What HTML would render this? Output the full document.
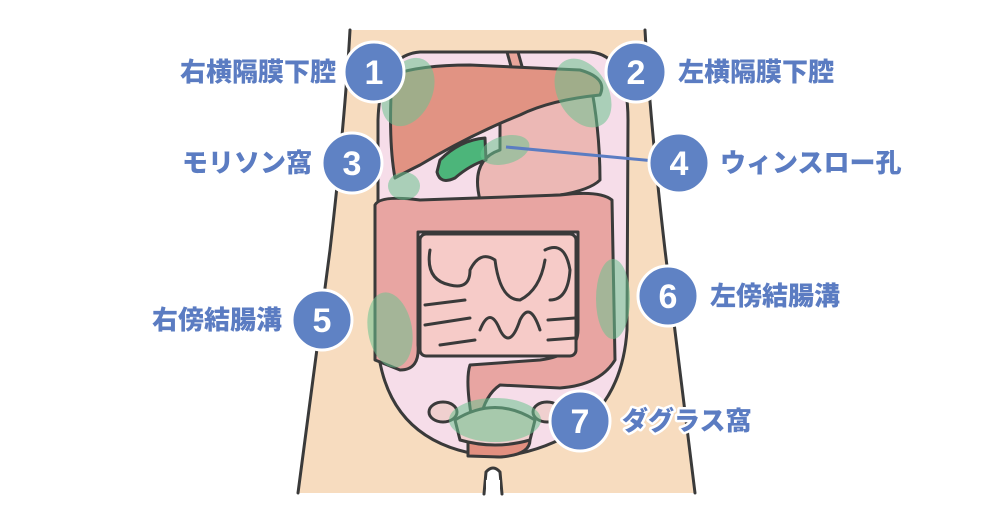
<!DOCTYPE html>
<html><head><meta charset="utf-8"><style>
body{margin:0;background:#fff;width:1000px;height:523px;overflow:hidden}
svg{display:block}
.lb{font-family:"Liberation Sans","Noto Sans CJK JP",sans-serif;font-weight:900;font-size:26px;fill:#5b7cc2;stroke:#fff;stroke-width:5px;paint-order:stroke;stroke-linejoin:round}
.num{font-family:"Liberation Sans",sans-serif;font-weight:bold;font-size:34px;fill:#fff;text-anchor:middle}
.o{stroke:#3a3a3a;stroke-width:3;stroke-linejoin:round;stroke-linecap:round}
.g{fill:#6cc38f;opacity:.55}
</style></head><body>
<svg width="1000" height="523" viewBox="0 0 1000 523">
<path d="M350 30 Q345 120 330 250 Q310 400 298 493 L695 493 Q683 400 665 250 Q650 120 645 30 Z" fill="#f7dcbf"/>
<path d="M350 30 Q345 120 330 250 Q310 400 298 493" fill="none" class="o"/>
<path d="M645 30 Q650 120 665 250 Q683 400 695 493" fill="none" class="o"/>
<path d="M484 494 L486 472 Q493 464 500 472 L502 494" fill="#fff" class="o"/>
<rect x="486" y="480" width="14" height="16" fill="#fff"/>
<path d="M420 52 L590 52 Q628 55 628 120 L627 330 Q620 440 500 457 Q390 450 378 350 L378 120 Q380 55 420 52 Z" fill="#f6dde9" class="o"/>
<path d="M507 52 L512 70 L523 70 L518 52 Z" fill="#e9a59a" class="o" stroke-width="2"/>
<path d="M500 80 Q560 60 590 80 Q600 130 600 180 Q590 190 560 195 L480 200 Q470 160 500 150 Z" fill="#ecb8b5" class="o"/>
<path d="M392 75 Q420 65 470 65 L580 70 Q608 78 600 95 Q550 100 520 115 Q470 135 420 165 Q400 175 395 178 Q388 140 392 75 Z" fill="#e19383" class="o"/>
<path d="M440 160 Q460 140 485 138 L486 160 Q470 165 455 178 Q440 185 437 172 Z" fill="#4cb57a" class="o" stroke-width="2"/>
<path d="M375 205 Q380 195 420 200 L560 195 Q600 190 612 200 L615 360 Q600 385 560 388 L500 385 Q485 395 480 420 L472 420 Q465 380 470 365 L540 360 Q578 355 578 330 L578 232 L418 232 L418 345 Q420 370 400 370 L375 360 Z" fill="#e8a5a2" class="o"/>
<path d="M500 440 L530 440 Q530 455 500 457 L468 456 L468 440 Z" fill="#e29080" class="o" stroke-width="2"/>
<rect x="420" y="234" width="156" height="122" rx="6" fill="#f6cbc8" class="o" stroke-width="2.5"/>
<g fill="none" class="o" stroke-width="2.5">
<path d="M430 250 Q425 280 450 285 Q470 290 470 270 Q480 250 495 260 Q500 300 520 300 Q540 290 545 260"/>
<path d="M425 305 L465 300 M425 325 L470 318 M440 345 L475 340"/>
<path d="M480 330 Q490 305 500 330 Q510 350 520 320 Q530 300 540 330"/>
<path d="M545 250 Q565 240 570 270 Q568 300 550 300 M548 320 L575 318 M548 340 L575 338"/>
</g>
<ellipse cx="443" cy="412" rx="14" ry="10" fill="#f0d0cf" class="o" stroke-width="2"/>
<ellipse cx="547" cy="412" rx="14" ry="10" fill="#f0d0cf" class="o" stroke-width="2"/>
<path d="M455 420 Q495 395 535 420 L530 440 Q495 450 460 440 Z" fill="#f0d0cf" class="o" stroke-width="2"/>
<ellipse class="g" cx="408" cy="92" rx="24" ry="36" transform="rotate(25 408 92)"/>
<ellipse class="g" cx="583" cy="93" rx="25" ry="37" transform="rotate(-30 583 93)"/>
<ellipse class="g" cx="404" cy="186" rx="16" ry="14"/>
<ellipse class="g" cx="505" cy="150" rx="25" ry="14" transform="rotate(-15 505 150)"/>
<ellipse class="g" cx="390" cy="330" rx="22" ry="38" transform="rotate(-10 390 330)"/>
<ellipse class="g" cx="613" cy="299" rx="17" ry="40"/>
<ellipse class="g" cx="495" cy="420" rx="46" ry="22"/>
<line x1="506" y1="147" x2="655" y2="161" stroke="#5b7cc2" stroke-width="3"/>
<g fill="#5f82c4" stroke="#fff" stroke-width="3">
<circle cx="374" cy="72" r="30"/><circle cx="636" cy="72" r="30"/>
<circle cx="352" cy="163" r="30"/><circle cx="679" cy="163" r="30"/>
<circle cx="322" cy="320" r="30"/><circle cx="668" cy="296" r="30"/>
<circle cx="580" cy="421" r="30"/>
</g>
<text class="num" x="374" y="84">1</text><text class="num" x="636" y="84">2</text>
<text class="num" x="352" y="175">3</text><text class="num" x="679" y="175">4</text>
<text class="num" x="322" y="332">5</text><text class="num" x="668" y="308">6</text>
<text class="num" x="580" y="433">7</text>
<text class="lb" x="336" y="81" text-anchor="end">右横隔膜下腔</text>
<text class="lb" x="678" y="81">左横隔膜下腔</text>
<text class="lb" x="312" y="172" text-anchor="end">モリソン窩</text>
<text class="lb" x="720" y="172">ウィンスロー孔</text>
<text class="lb" x="282" y="329" text-anchor="end">右傍結腸溝</text>
<text class="lb" x="710" y="305">左傍結腸溝</text>
<text class="lb" x="622" y="430">ダグラス窩</text>
</svg>
</body></html>
